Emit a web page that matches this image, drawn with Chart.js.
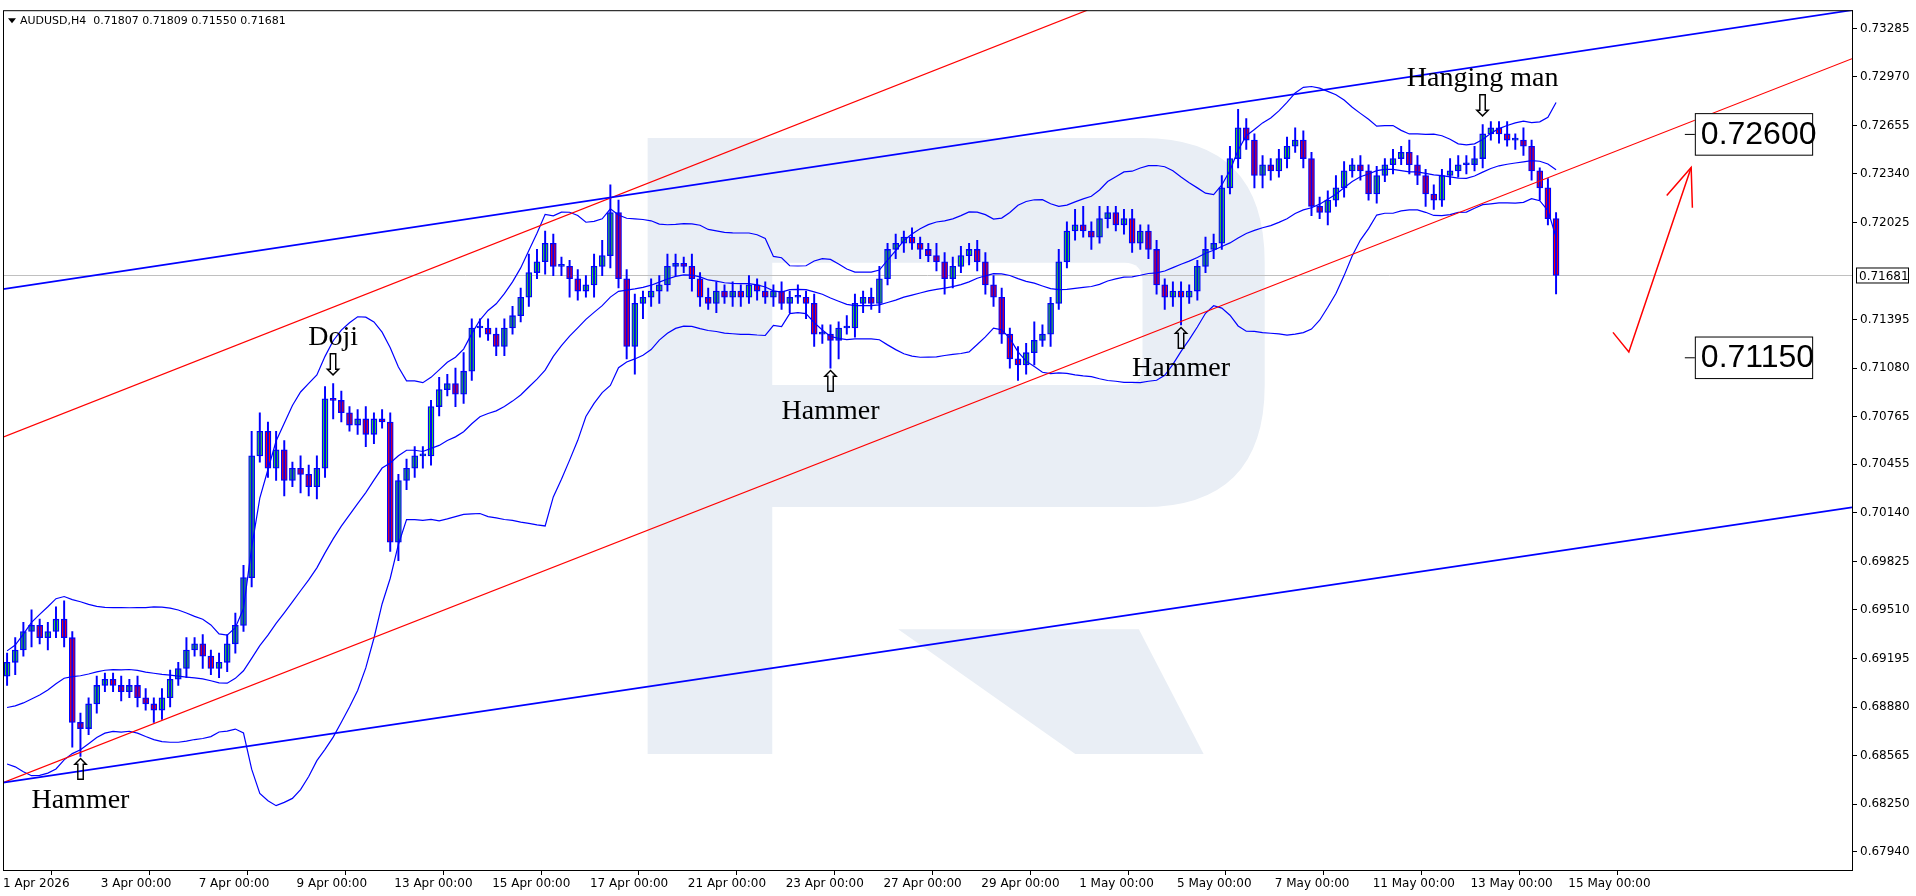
<!DOCTYPE html>
<html><head><meta charset="utf-8">
<script src="https://cdn.jsdelivr.net/npm/chart.js@4.4.1/dist/chart.umd.min.js"></script>
<style>html,body{margin:0;padding:0;background:#fff}#wrap{width:1916px;height:896px}</style>
</head><body><div id="wrap"><canvas id="c" width="1916" height="896"></canvas></div>
<script>
const dateLabels=['1 Apr 2026','3 Apr 00:00','7 Apr 00:00','9 Apr 00:00','13 Apr 00:00','15 Apr 00:00','17 Apr 00:00','21 Apr 00:00','23 Apr 00:00','27 Apr 00:00','29 Apr 00:00','1 May 00:00','5 May 00:00','7 May 00:00','11 May 00:00','13 May 00:00','15 May 00:00'];
const priceTicks=[0.73285,0.72970,0.72655,0.72340,0.72025,0.71395,0.71080,0.70765,0.70455,0.70140,0.69825,0.69510,0.69195,0.68880,0.68565,0.68250,0.67940];
const priorCloses=[.6905,.6898,.6890,.6880,.6872,.6866,.6860,.6858,.6862,.6868,.6875,.6884,.6893,.6902,.6897,.6905,.6912,.6902,.6908];
const closes=[.6917,.6925,.6937,.6941,.6933,.6937,.6945,.6933,.6878,.6874,.6890,.6902,.6906,.6902,.6898,.6902,.6894,.6890,.6886,.6894,.6906,.6913,.6925,.6929,.6921,.6913,.6917,.6929,.6941,
.6972,.7051,.7067,.7043,.7055,.7035,.7043,.7039,.7031,.7043,.7088,.7087,.7079,.7071,.7075,.7065,.7075,.7073,
.6995,.7035,.7043,.7051,.7051,.7083,.7094,.7098,.7091,.7106,.7134,.7134,.7130,.7122,.7134,.7142,.7154,.7170,.7177,.7189,.7174,.7174,.7166,.7158,.7162,.7174,.7181,.7209,.7166,.7122,.7150,.7154,.7158,.7162,.7174,
.7176,.7174,.7166,.7154,.7150,.7158,.7154,.7158,.7154,.7162,.7158,.7154,.7158,.7150,.7154,.7154,.7150,.7130,.7130,.7126,.7134,.7134,.7150,.7154,.7150,.7166,.7185,.7189,.7193,.7189,.7185,.7181,.7177,.7166,.7174,.7181,.7185,.7177,
.7162,.7154,.7130,.7114,.7110,.7118,.7126,.7130,.7150,.7177,.7197,.7201,.7197,.7193,.7205,.7209,.7201,.7205,.7189,.7197,.7185,.7162,.7154,.7158,.7154,.7158,.7174,.7185,.7189,.7225,
.7244,.7264,.7256,.7233,.7240,.7236,.7244,.7252,.7256,.7244,.7213,.7209,.7217,.7225,.7236,.7240,.7236,.7221,.7233,.7240,.7244,.7248,.7240,.7233,.7221,.7217,.7233,.7236,.7240,.7240,.7244,.7260,.7264,.7260,.7256,.7256,.7252,.7236,.7225,.7205,.71681];
// wick lengths, each digit = 2 pips
const wickUpDigits="3435234623 2322323323 3242323344 8636324344 5323423323 3324356333 2333644332 3345943324 3432423323 2323232423 3324323423 2322433323 3332436324 3563422332 2323322434 4632323343 2334323232 3243232433 4322424213 2";
const wickDnDigits="3425242389 2322323243 3232423332 3234526343 6323432363 3433243332 3322324336 3243434953 4232432323 3232323254 3962332323 3232353233 3333534242 2324232332 3343923232 2334432323 3242323232 3233432323 2323233342 6";
const wickUp=wickUpDigits.replace(/ /g,'').split('').map(d=>+d*0.0002);
const wickDn=wickDnDigits.replace(/ /g,'').split('').map(d=>+d*0.0002);
const lastPrice=0.71681;
const blueTop=[[0,0.71592],[226.8,0.73403]];
const blueBottom=[[0,0.68389],[226.8,0.70176]];
const redTop=[[0,0.70632],[133.0,0.73403]];
const redBottom=[[0,0.68389],[226.8,0.73088]];
const targets=[0.72600,0.71150];
const patterns=[{bar:9,text:'Hammer',dir:'up'},{bar:40,text:'Doji',dir:'down'},{bar:101,text:'Hammer',dir:'up'},{bar:144,text:'Hammer',dir:'up'},{bar:181,text:'Hanging man',dir:'down'}];

const S=1916/1568;
const opens=closes.map((c,i)=>i===0?priorCloses[priorCloses.length-1]:closes[i-1]);
const highs=closes.map((c,i)=>Math.max(c,opens[i])+wickUp[i]);
const lows=closes.map((c,i)=>Math.min(c,opens[i])-wickDn[i]);
const all=priorCloses.concat(closes);
const up=[],mid=[],lo=[];
closes.forEach((c,i)=>{const w=all.slice(i,i+20);const m=w.reduce((a,b)=>a+b,0)/20;const sd=Math.sqrt(w.reduce((a,b)=>a+(b-m)*(b-m),0)/20);
 mid.push({x:i+0.5,y:m});up.push({x:i+0.5,y:m+2*sd});lo.push({x:i+0.5,y:m-2*sd});});
const bodies=closes.map((c,i)=>({x:i+0.5,y:[opens[i],c]}));
const wicks=closes.map((c,i)=>({x:i+0.5,y:[lows[i],highs[i]]}));
const bodyColors=closes.map((c,i)=>c>=opens[i]?'#32cd32':'#ff0000');
const pts=a=>a.map(p=>({x:p[0],y:p[1]}));
const lineDs=(d,col,w)=>({type:'line',data:d,borderColor:col,borderWidth:w,pointRadius:0,tension:0,fill:false});

const deco={id:'deco',
 beforeDatasetsDraw(ch){const ctx=ch.ctx,a=ch.chartArea;ctx.save();ctx.beginPath();ctx.rect(a.left,a.top,a.right-a.left,a.bottom-a.top);ctx.clip();
  const P=(x,y)=>[x*S,y*S];ctx.fillStyle='#e9eef5';
  ctx.beginPath();ctx.moveTo(...P(530,113));ctx.lineTo(...P(935,113));ctx.quadraticCurveTo(...P(1035,113),...P(1035,215));ctx.lineTo(...P(1035,315));ctx.quadraticCurveTo(...P(1035,415),...P(935,415));
  ctx.lineTo(...P(632,415));ctx.lineTo(...P(632,617));ctx.lineTo(...P(530,617));ctx.closePath();ctx.fill();
  ctx.fillStyle='#fff';ctx.beginPath();ctx.moveTo(...P(632,215));ctx.lineTo(...P(920,215));ctx.quadraticCurveTo(...P(935,215),...P(935,230));ctx.lineTo(...P(935,300));ctx.quadraticCurveTo(...P(935,315),...P(920,315));ctx.lineTo(...P(632,315));ctx.closePath();ctx.fill();
  ctx.fillStyle='#e9eef5';ctx.beginPath();ctx.moveTo(...P(735,515));ctx.lineTo(...P(932,515));ctx.lineTo(...P(985,617));ctx.lineTo(...P(880,617));ctx.closePath();ctx.fill();
  const y=ch.scales.y.getPixelForValue(lastPrice);ctx.strokeStyle='#c0c0c0';ctx.lineWidth=1;ctx.beginPath();ctx.moveTo(a.left,Math.round(y)+.5);ctx.lineTo(a.right,Math.round(y)+.5);ctx.stroke();
  ctx.restore();},
 afterDatasetsDraw(ch){const ctx=ch.ctx,a=ch.chartArea,xs=ch.scales.x,ys=ch.scales.y;ctx.save();
  ctx.strokeStyle='#000';ctx.lineWidth=1;ctx.strokeRect(a.left+.5,a.top+.5,a.right-a.left,a.bottom-a.top);
  ctx.fillStyle='#000';ctx.font='11px "DejaVu Sans"';ctx.textBaseline='middle';ctx.textAlign='left';
  ctx.beginPath();ctx.moveTo(a.left+5,a.top+8);ctx.lineTo(a.left+13,a.top+8);ctx.lineTo(a.left+9,a.top+13);ctx.fill();
  ctx.fillText('AUDUSD,H4  0.71807 0.71809 0.71550 0.71681',a.left+17,a.top+11);
  ctx.textAlign='center';
  patterns.forEach(p=>{const x=xs.getPixelForValue(p.bar+0.5);
   if(p.dir==='up'){const yl=ys.getPixelForValue(lows[p.bar]);ctx.font='30px "DejaVu Sans"';ctx.fillText('⇧',x,yl+16);ctx.font='28px "Liberation Serif"';ctx.fillText(p.text,x,yl+44);}
   else{const yh=ys.getPixelForValue(highs[p.bar]);ctx.font='30px "DejaVu Sans"';ctx.fillText('⇩',x,yh-16);ctx.font='28px "Liberation Serif"';ctx.fillText(p.text,x,yh-46);}});
  ctx.font='32px "Liberation Sans"';ctx.textAlign='left';
  targets.forEach(t=>{const y=ys.getPixelForValue(t);const x0=1387*S,w=(1483-1387)*S,h=34*S;ctx.fillStyle='#fff';ctx.fillRect(x0,y-h/2,w,h);ctx.strokeStyle='#000';ctx.lineWidth=1;ctx.strokeRect(x0+.5,y-h/2+.5,w,h);
   ctx.fillStyle='#000';ctx.fillText(t.toFixed(5),x0+6,y+1);ctx.beginPath();ctx.moveTo(x0-10,y+.5);ctx.lineTo(x0,y+.5);ctx.stroke();});
  ctx.strokeStyle='#ff0000';ctx.lineWidth=1.5;ctx.beginPath();ctx.moveTo(1320*S,272*S);ctx.lineTo(1333*S,288*S);ctx.lineTo(1384*S,137*S);ctx.stroke();
  ctx.beginPath();ctx.moveTo(1364*S,160*S);ctx.lineTo(1384*S,137*S);ctx.lineTo(1385*S,170*S);ctx.stroke();
  const yl=ys.getPixelForValue(lastPrice);ctx.fillStyle='#fff';ctx.fillRect(a.right+4,yl-8,52,16);ctx.strokeStyle='#000';ctx.lineWidth=1;ctx.strokeRect(a.right+4.5,yl-7.5,52,15);
  ctx.fillStyle='#000';ctx.font='12px "DejaVu Sans"';ctx.fillText(lastPrice.toFixed(5),a.right+7,yl+1);
  ctx.restore();}};

new Chart(document.getElementById('c'),{type:'bar',
 data:{datasets:[
  lineDs(pts(blueTop),'#0000ff',1.8),lineDs(pts(blueBottom),'#0000ff',1.8),lineDs(pts(redTop),'#ff0000',1.2),lineDs(pts(redBottom),'#ff0000',1.2),
  lineDs(up,'#0000ff',1.2),lineDs(mid,'#0000ff',1.2),lineDs(lo,'#0000ff',1.2),
  {type:'bar',data:wicks,backgroundColor:'#0000ff',borderWidth:0,barThickness:1.3,grouped:false},
  {type:'bar',data:bodies,backgroundColor:bodyColors,borderColor:'#0000ff',borderWidth:1.3,borderSkipped:false,barThickness:6,minBarLength:2,grouped:false}]},
 options:{responsive:false,animation:false,events:[],
  layout:{padding:{left:3,top:3,right:0,bottom:0}},
  plugins:{legend:{display:false},tooltip:{enabled:false}},
  scales:{
   x:{type:'linear',min:0,max:226.8,offset:false,
    afterBuildTicks:s=>{s.ticks=dateLabels.map((l,i)=>({value:i*12}));},
    afterFit:s=>{s.height=26;},
    ticks:{callback:(v)=>dateLabels[Math.round(v/12)],align:'start',maxRotation:0,autoSkip:false,color:'#000',font:{size:12,family:'DejaVu Sans'},padding:2},
    grid:{drawOnChartArea:false,tickLength:5,color:'#000'},border:{color:'#000'}},
   y:{position:'right',min:0.67822,max:0.73403,
    afterBuildTicks:s=>{s.ticks=priceTicks.map(v=>({value:v}));},
    afterFit:s=>{s.width=64;},
    ticks:{callback:v=>v.toFixed(5),color:'#000',font:{size:12,family:'DejaVu Sans'},padding:3},
    grid:{drawOnChartArea:false,tickLength:5,color:'#000'},border:{color:'#000'}}}},
 plugins:[deco]});
</script></body></html>
